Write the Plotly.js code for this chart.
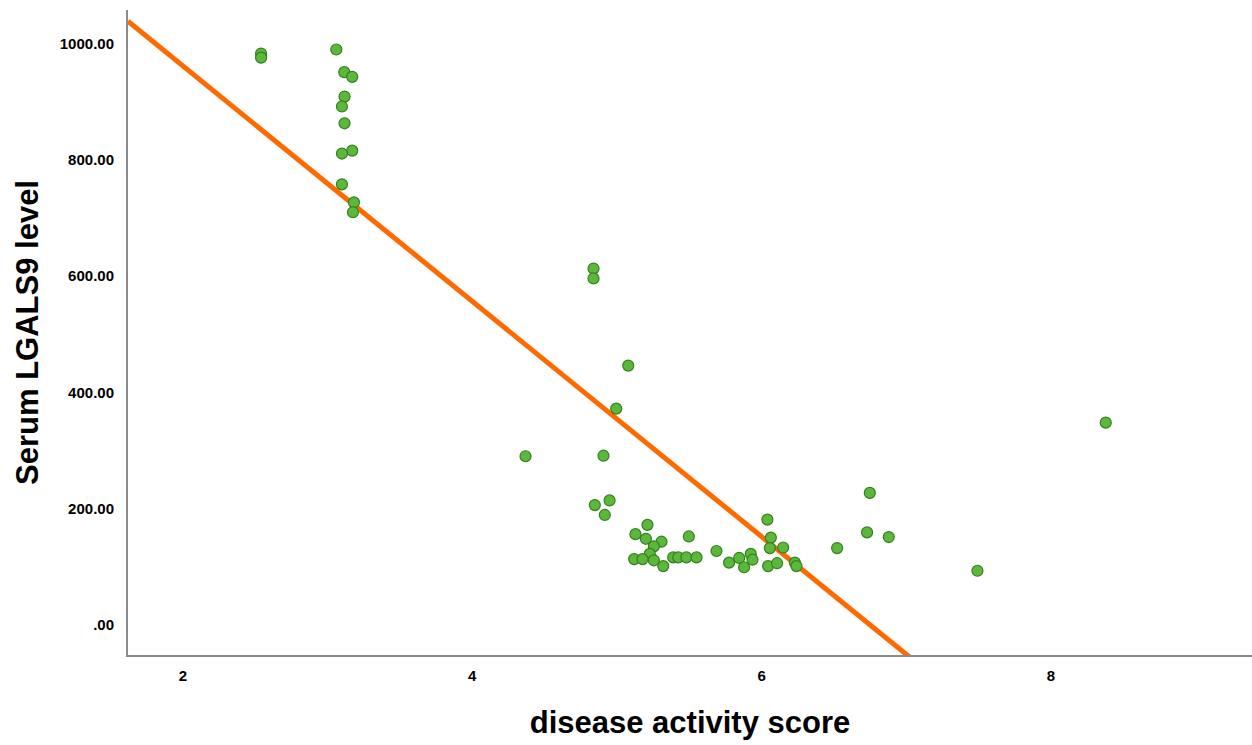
<!DOCTYPE html>
<html>
<head>
<meta charset="utf-8">
<script src="https://cdn.plot.ly/plotly-3.0.1.min.js"></script>
<style>html,body{margin:0;padding:0;background:#fff;}#chart{width:1252px;height:745px;}</style>
</head>
<body>
<div id="chart"></div>
<script>
// disease activity score (x) and Serum LGALS9 level (y)
const scoreValues = [
  2.54, 2.54, 3.06, 3.115, 3.17, 3.117, 3.099, 3.117, 3.17, 3.099, 3.099, 3.182, 3.175,
  4.838, 4.838, 5.078, 4.995, 4.368, 4.907, 4.847, 4.949, 4.916,
  5.211, 5.128, 5.2, 5.308, 5.255, 5.497, 5.227, 5.119, 5.177, 5.32, 5.255, 5.389, 5.424, 5.48, 5.55,
  5.688, 5.775, 5.845, 5.879, 5.925, 5.937, 6.04, 6.064, 6.057, 6.149, 6.045, 6.107, 6.23, 6.241,
  6.748, 6.729, 6.879, 6.522, 7.492, 8.379
];
const lgals9Values = [
  983, 976, 990, 951, 943, 909, 892, 863, 816, 811, 758, 727, 710,
  613, 596, 446, 372, 290, 291, 206, 214, 189,
  172, 156, 148, 143, 135, 152, 122, 113, 113, 101, 111, 116, 116, 116, 116,
  127, 107, 115, 99, 122, 112, 181, 150, 132, 133, 101, 106, 107, 101,
  227, 159, 151, 132, 93, 348
];
const xTickValues = [2, 4, 6, 8];
const xTickLabels = ['2', '4', '6', '8'];
const yTickValues = [0, 200, 400, 600, 800, 1000];
const yTickLabels = ['.00', '200.00', '400.00', '600.00', '800.00', '1000.00'];
const xRange = [1.62, 9.39];
const yRange = [-52, 1058];

// least-squares fit line
const n = scoreValues.length;
const mx = scoreValues.reduce((a, b) => a + b, 0) / n;
const my = lgals9Values.reduce((a, b) => a + b, 0) / n;
let sxy = 0, sxx = 0;
for (let i = 0; i < n; i++) {
  sxy += (scoreValues[i] - mx) * (lgals9Values[i] - my);
  sxx += (scoreValues[i] - mx) ** 2;
}
const slope = sxy / sxx;
const intercept = my - slope * mx;
const fitX = [xRange[0], xRange[1]];
const fitY = fitX.map(v => intercept + slope * v);

const traces = [
  {
    x: fitX, y: fitY, type: 'scatter', mode: 'lines',
    line: {color: '#ff6a00', width: 5}, hoverinfo: 'skip', showlegend: false
  },
  {
    x: scoreValues, y: lgals9Values, type: 'scatter', mode: 'markers',
    marker: {size: 11, color: '#5cb83a', line: {color: '#34801f', width: 1.2}},
    showlegend: false, cliponaxis: false
  }
];

const layout = {
  width: 1252, height: 745,
  margin: {l: 128, r: 0, t: 10, b: 90},
  paper_bgcolor: '#ffffff', plot_bgcolor: '#ffffff',
  font: {family: 'Liberation Sans, Arial, sans-serif', color: '#000'},
  showlegend: false,
  xaxis: {
    range: xRange, tickvals: xTickValues, ticktext: xTickLabels,
    showgrid: false, zeroline: false, showline: true, linecolor: '#8c8c8c', linewidth: 2,
    ticks: '', ticklabelstandoff: 6,
    tickfont: {family: 'Liberation Sans Narrow, Liberation Sans, Arial', size: 15, color: '#000', weight: 'bold'},
    title: {text: '<b>disease activity score</b>', font: {family: 'Liberation Sans, Arial', size: 31, color: '#000'}, standoff: 28}
  },
  yaxis: {
    range: yRange, tickvals: yTickValues, ticktext: yTickLabels,
    showgrid: false, zeroline: false, showline: true, linecolor: '#8c8c8c', linewidth: 2,
    ticks: '', ticklabelstandoff: 9,
    tickfont: {family: 'Liberation Sans, Arial', size: 15, color: '#000', weight: 'bold'},
    title: {text: '<b>Serum LGALS9 level</b>', font: {family: 'Liberation Sans, Arial', size: 31, color: '#000'}, standoff: 12}
  }
};

Plotly.newPlot('chart', traces, layout, {displayModeBar: false, staticPlot: true});
</script>
</body>
</html>
